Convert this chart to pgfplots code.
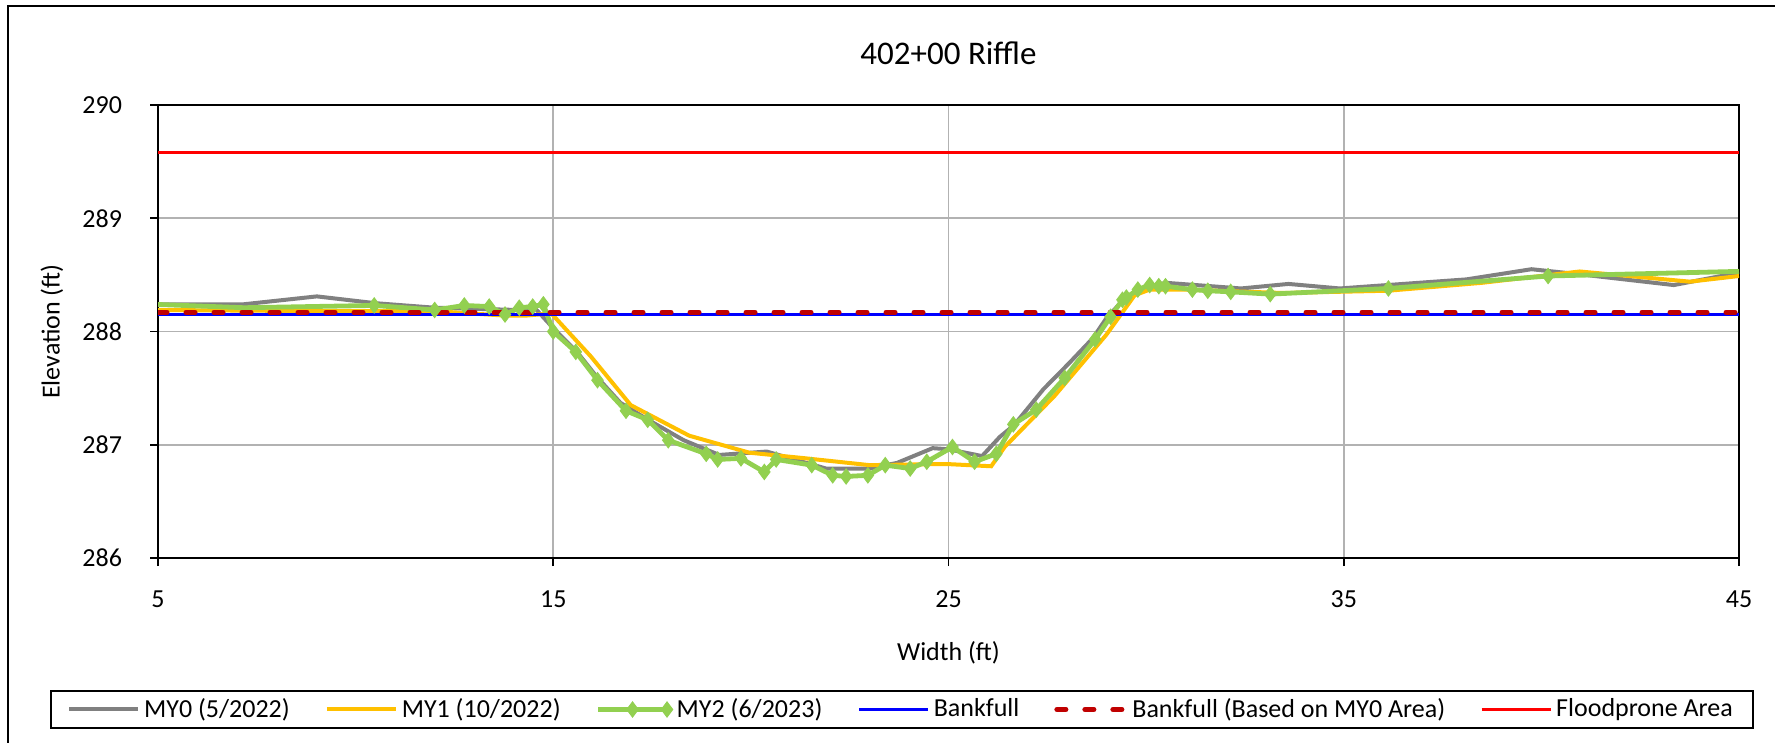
\documentclass[border=0pt]{standalone}
\usepackage{fontspec}
\setmainfont{Carlito}
\usepackage{pgfplots}
\pgfplotsset{compat=1.18}
\definecolor{cMYzero}{HTML}{808080}
\definecolor{cMYone}{HTML}{FFC000}
\definecolor{cMYtwo}{HTML}{92D050}
\definecolor{cBank}{HTML}{0000FF}
\definecolor{cBankD}{HTML}{C00000}
\definecolor{cFlood}{HTML}{FF0000}
\pgfplotsset{longleg/.style={legend image code/.code={\draw[mark repeat=2,mark phase=2,##1] plot coordinates {(0pt,0pt) (17.25pt,0pt) (34.5pt,0pt)};}}}
\begin{document}
\fontsize{13pt}{15.6pt}\selectfont
\begin{tikzpicture}
\useasboundingbox (0,0) rectangle (887.5pt,371.5pt);
\draw[line width=1.2pt] (4pt,0pt) -- (4pt,368.5pt) -- (887.5pt,368.5pt);
\begin{axis}[
  at={(79pt,92.5pt)}, anchor=south west,
  scale only axis, width=790.5pt, height=226.5pt,
  xmin=5, xmax=45, ymin=286, ymax=290,
  xtick={5,15,25,35,45}, ytick={286,287,288,289,290},
  /pgf/number format/assume math mode=true,
  font=\fontsize{13pt}{15.6pt}\selectfont,
  tick pos=left, tick align=outside, major tick length=4pt,
  every tick/.style={black, line width=0.8pt},
  axis line style={black, line width=1.4pt},
  grid=major, major grid style={black!30, line width=0.9pt},
  xticklabel style={yshift=-8pt},
  yticklabel style={xshift=-9.5pt},
  title={\fontsize{16.5pt}{19.8pt}\selectfont 402+00 Riffle},
  every axis title/.style={at={(axis description cs:0.5,1)}, yshift=26pt, anchor=center},
  xlabel={Width (ft)}, ylabel={Elevation (ft)},
  every axis x label/.style={at={(axis description cs:0.5,0)}, yshift=-47.5pt, anchor=center},
  every axis y label/.style={at={(axis description cs:0,0.5)}, xshift=-53pt, rotate=90, anchor=center},
  legend columns=6,
  legend style={at={(0.4706,-0.3344)}, anchor=center, draw=black, line width=1pt,
    inner xsep=8pt, inner ysep=1.5pt,
    /tikz/every even column/.append style={column sep=15.5pt},
    font=\fontsize{13pt}{15.6pt}\selectfont},
]
\addplot[cMYzero, line width=2pt, no marks, longleg] coordinates {
(5,288.24) (7.16,288.24) (9.02,288.31) (10.5,288.25) (12.0,288.21) (14.1,288.19) (14.5,288.22) (15.0,288.03) (15.6,287.82) (16.1,287.6) (16.7,287.37) (17.4,287.22) (18.3,287.04) (19.2,286.91) (20.4,286.94) (21.9,286.79) (23.0,286.79) (23.7,286.84) (24.6,286.97) (25.0,286.96) (25.85,286.9) (26.3,287.07) (26.65,287.17) (27.4,287.49) (28.05,287.72) (28.65,287.94) (29.0,288.12) (29.4,288.27) (29.85,288.38) (30.5,288.43) (32.4,288.38) (33.6,288.42) (34.9,288.38) (36.1,288.41) (38.1,288.46) (39.75,288.55) (41.1,288.5) (43.35,288.41) (45,288.52)
};
\addlegendentry{MY0 (5/2022)}
\addplot[cMYone, line width=2pt, no marks, longleg] coordinates {
(5,288.19) (9,288.18) (12,288.18) (13.8,288.14) (14.3,288.14) (14.95,288.16) (15.95,287.78) (16.96,287.35) (18.44,287.08) (19.96,286.93) (21.39,286.88) (23.0,286.82) (24.94,286.83) (26.08,286.81) (26.42,286.98) (27.68,287.43) (28.99,287.97) (29.71,288.32) (30.09,288.37) (30.93,288.37) (33.46,288.34) (36.12,288.36) (38.5,288.43) (40.97,288.53) (43.76,288.44) (45,288.49)
};
\addlegendentry{MY1 (10/2022)}
\addplot[cMYtwo, line width=2.4pt, mark=diamond*, mark size=3.8pt, mark options={solid, fill=cMYtwo, line width=0.5pt}, mark indices={2,...,48}, longleg] coordinates {
(4.5,288.245) (7.18,288.21) (10.47,288.23) (12.0,288.19) (12.75,288.23) (13.38,288.22) (13.78,288.15) (14.14,288.21) (14.48,288.22) (14.75,288.24) (15.0,288.0) (15.57,287.82) (16.12,287.57) (16.84,287.30) (17.39,287.22) (17.91,287.04) (18.87,286.92) (19.16,286.87) (19.75,286.88) (20.34,286.76) (20.64,286.87) (21.54,286.82) (22.07,286.73) (22.41,286.72) (22.96,286.73) (23.40,286.82) (24.03,286.79) (24.45,286.85) (25.1,286.98) (25.66,286.85) (26.21,286.92) (26.64,287.18) (27.22,287.31) (27.94,287.59) (28.71,287.93) (29.10,288.13) (29.40,288.28) (29.5,288.30) (29.79,288.37) (30.09,288.41) (30.32,288.40) (30.49,288.40) (31.17,288.37) (31.56,288.36) (32.14,288.35) (33.14,288.33) (36.13,288.38) (40.17,288.49) (45.5,288.535)
};
\addlegendentry{MY2 (6/2023)}
\addplot[cBank, line width=1.7pt, no marks, longleg] coordinates {(5,288.15) (45,288.15)};
\addlegendentry{Bankfull}
\addplot[cBankD, line width=2.5pt, line cap=round, dash pattern=on 4.5pt off 9.5pt, no marks, longleg] coordinates {(5,288.17) (45,288.17)};
\addlegendentry{Bankfull (Based on MY0 Area)}
\addplot[cFlood, line width=1.5pt, no marks, longleg] coordinates {(5,289.58) (45,289.58)};
\addlegendentry{Floodprone Area}
\end{axis}
\end{tikzpicture}
\end{document}
